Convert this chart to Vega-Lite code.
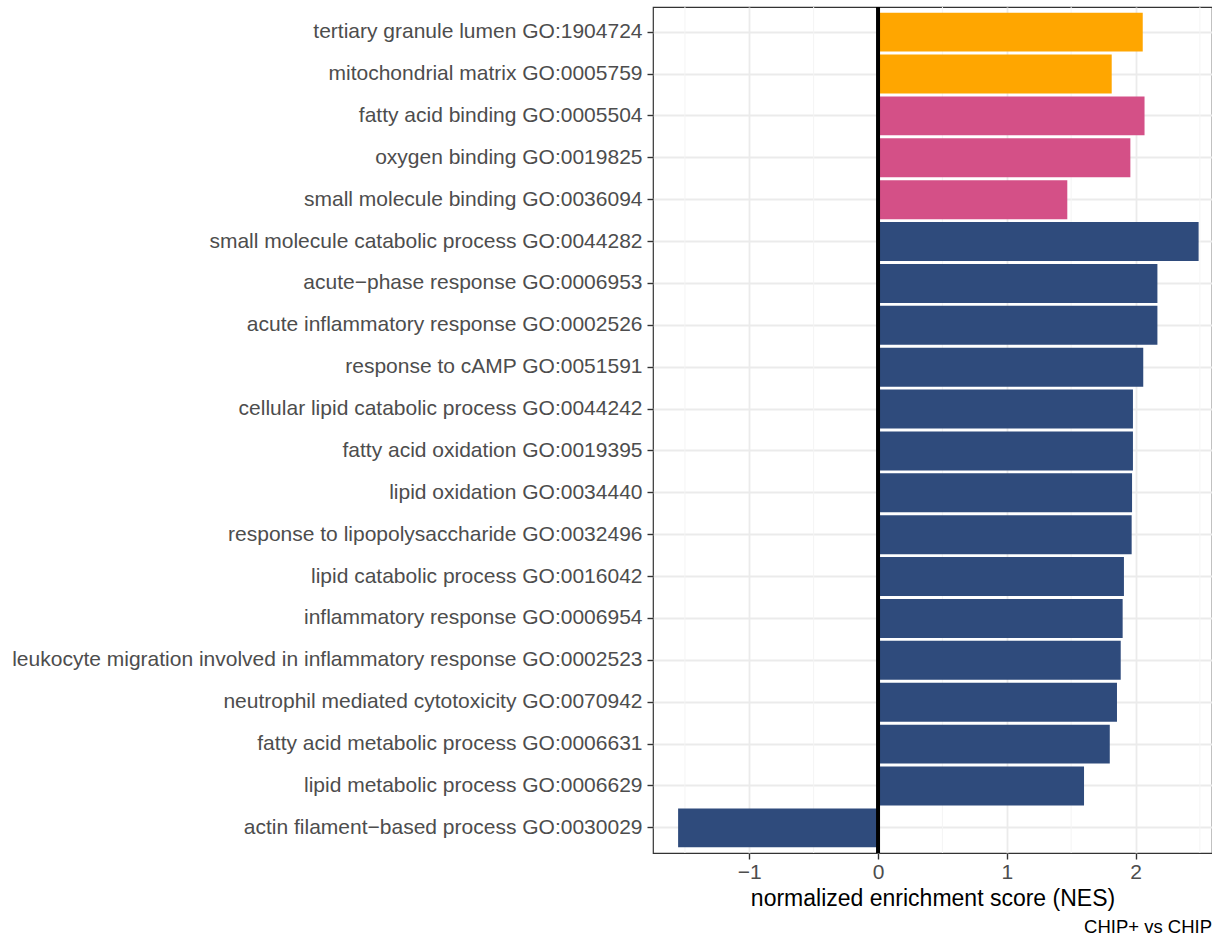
{
  "$schema": "https://vega.github.io/schema/vega-lite/v6.json",
  "autosize": {"type": "none"},
  "width": 559,
  "height": 846,
  "padding": {"left": 653, "top": 7, "right": 0, "bottom": 85},
  "background": "white",
  "config": {
    "font": "Liberation Sans",
    "view": {"stroke": "#333333", "strokeWidth": 1.2},
    "axis": {"domain": false, "gridColor": "#EBEBEB", "gridWidth": 1.8, "tickColor": "#333333", "tickWidth": 1.4, "tickSize": 6, "labelColor": "#4D4D4D", "labelFontSize": 21, "labelFont": "Liberation Sans", "titleFont": "Liberation Sans", "titleFontWeight": "normal", "titleColor": "#000000"}
  },
  "title": {"text": "CHIP+ vs CHIP", "orient": "bottom", "anchor": "end", "fontSize": 18.5, "fontWeight": "normal", "font": "Liberation Sans", "color": "#000000", "offset": 8},
  "datasets": {
    "terms": [
      {"term": "tertiary granule lumen GO:1904724", "ont": "CC", "nes": 2.056},
      {"term": "mitochondrial matrix GO:0005759", "ont": "CC", "nes": 1.815},
      {"term": "fatty acid binding GO:0005504", "ont": "MF", "nes": 2.07},
      {"term": "oxygen binding GO:0019825", "ont": "MF", "nes": 1.96},
      {"term": "small molecule binding GO:0036094", "ont": "MF", "nes": 1.47},
      {"term": "small molecule catabolic process GO:0044282", "ont": "BP", "nes": 2.49},
      {"term": "acute−phase response GO:0006953", "ont": "BP", "nes": 2.17},
      {"term": "acute inflammatory response GO:0002526", "ont": "BP", "nes": 2.17},
      {"term": "response to cAMP GO:0051591", "ont": "BP", "nes": 2.06},
      {"term": "cellular lipid catabolic process GO:0044242", "ont": "BP", "nes": 1.98},
      {"term": "fatty acid oxidation GO:0019395", "ont": "BP", "nes": 1.98},
      {"term": "lipid oxidation GO:0034440", "ont": "BP", "nes": 1.973},
      {"term": "response to lipopolysaccharide GO:0032496", "ont": "BP", "nes": 1.97},
      {"term": "lipid catabolic process GO:0016042", "ont": "BP", "nes": 1.91},
      {"term": "inflammatory response GO:0006954", "ont": "BP", "nes": 1.90},
      {"term": "leukocyte migration involved in inflammatory response GO:0002523", "ont": "BP", "nes": 1.885},
      {"term": "neutrophil mediated cytotoxicity GO:0070942", "ont": "BP", "nes": 1.856},
      {"term": "fatty acid metabolic process GO:0006631", "ont": "BP", "nes": 1.80},
      {"term": "lipid metabolic process GO:0006629", "ont": "BP", "nes": 1.60},
      {"term": "actin filament−based process GO:0030029", "ont": "BP", "nes": -1.553}
    ],
    "minor": [{"v": -1.5}, {"v": -0.5}, {"v": 0.5}, {"v": 1.5}, {"v": 2.5}],
    "zero": [{"v": 0}]
  },
  "layer": [
    {
      "data": {"name": "minor"},
      "mark": {"type": "rule", "color": "#F4F4F4", "strokeWidth": 1},
      "encoding": {"x": {"field": "v", "type": "quantitative"}}
    },
    {
      "data": {"name": "terms"},
      "mark": {"type": "bar"},
      "encoding": {
        "y": {
          "field": "term", "type": "nominal", "sort": null,
          "scale": {"paddingInner": 0.07, "paddingOuter": 0.135},
          "axis": {"title": null, "bandPosition": 0.5, "grid": true, "labelPadding": 5, "labelLimit": 700}
        },
        "x": {
          "field": "nes", "type": "quantitative",
          "scale": {"domain": [-1.748, 2.594], "nice": false, "zero": false},
          "axis": {"title": "normalized enrichment score (NES)", "titleFontSize": 23, "titlePadding": 5, "values": [-1, 0, 1, 2], "format": "d", "grid": true, "labelPadding": 2}
        },
        "color": {
          "field": "ont", "type": "nominal",
          "scale": {"domain": ["CC", "MF", "BP"], "range": ["#FFA600", "#D45087", "#2F4B7C"]},
          "legend": null
        }
      }
    },
    {
      "data": {"name": "zero"},
      "mark": {"type": "rule", "color": "#000000", "strokeWidth": 4},
      "encoding": {"x": {"field": "v", "type": "quantitative"}}
    }
  ]
}
